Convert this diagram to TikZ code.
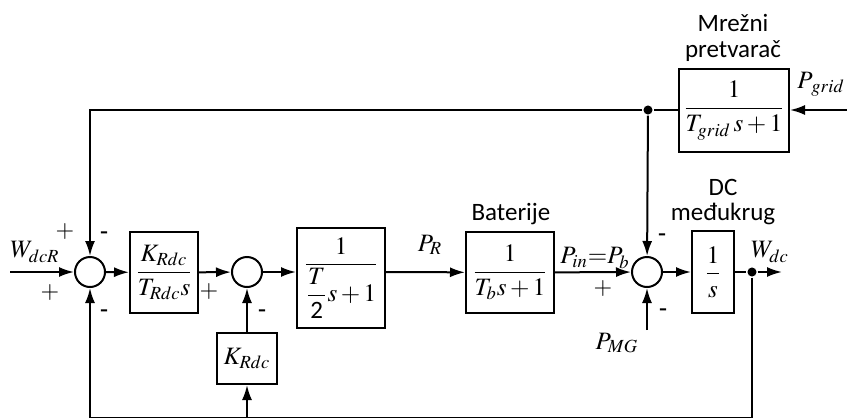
\documentclass[tikz,border=0pt]{standalone}
\usepackage{amsmath}
\usepackage{mathptmx}
\usepackage[no-math]{fontspec}
\setmainfont{Liberation Serif}
\newfontfamily\lbl{Carlito}
\usetikzlibrary{arrows.meta}
\newcommand\mfont{\fontsize{12.5}{15}\selectfont}

\begin{document}
\begin{tikzpicture}[x=0.5pt, y=-0.5pt, >={Latex[length=7.5pt,width=5pt]}, line width=1pt,
  blok/.style={draw, line width=1pt, inner sep=1pt, font=\mfont},
  sumator/.style={circle, draw, line width=1pt, minimum size=15pt, inner sep=0pt},
  znak/.style={font=\fontsize{12}{14}\selectfont, inner sep=0pt},
  natpis/.style={font=\lbl\fontsize{12.5}{14}\selectfont, inner sep=0pt},
  oznaka/.style={font=\mfont, inner sep=0pt},
  tacka/.style={circle, fill, inner sep=1.6pt}]
  \useasboundingbox (0,0) rectangle (847,418);

  % sumatori i blokovi na glavnoj liniji
  \node[sumator] (sum1) at (90,272) {};
  \node[blok, minimum width=34pt, minimum height=40.5pt] (blkPI) at (164,272.5) {$\dfrac{K_{Rdc}}{T_{Rdc}s}$};
  \node[sumator] (sum2) at (247,272) {};
  \node[blok, minimum width=30pt, minimum height=25.5pt] (blkK) at (247,358.5) {$K_{Rdc}$};
  \node[blok, minimum width=44pt, minimum height=50pt] (blkT) at (341,278) {$\dfrac{1}{\dfrac{T}{\mbox{\lbl 2}}s+1}$};
  \node[blok, minimum width=44pt, minimum height=40.5pt] (blkB) at (510,272.5) {$\dfrac{1}{T_b s+1}$};
  \node[sumator] (sum3) at (647,272) {};
  \node[blok, minimum width=21pt, minimum height=41pt] (blkS) at (713,272) {$\dfrac{1}{s}$};
  \node[blok, minimum width=55pt, minimum height=41.5pt] (blkG) at (734,110.5) {$\dfrac{1}{T_{grid}\,s+1}$};

  % tacke grananja i krajevi
  \node[tacka] (jG) at (648,110) {};
  \node[tacka] (jW) at (752,272) {};
  \coordinate (ulaz) at (10,272);
  \coordinate (izlaz) at (782,272);
  \coordinate (pgrid) at (847,110);
  \coordinate (pmg) at (647,330);
  \coordinate (kGL) at (90,110);
  \coordinate (kDL) at (90,418);
  \coordinate (kDD) at (752,418);
  \coordinate (kDK) at (247,418);

  % veze
  \draw[->] (ulaz) -- (sum1);
  \draw[->] (sum1) -- (blkPI);
  \draw[->] (blkPI) -- (sum2);
  \draw[->] (sum2) -- (sum2 -| blkT.west);
  \draw[->] (blkT.east |- sum2) -- (blkB);
  \draw[->] (blkB) -- (sum3);
  \draw[->] (sum3) -- (blkS);
  \draw (blkS) -- (jW);
  \draw[->] (jW) -- (izlaz);
  \draw[->] (pgrid) -- (pgrid -| blkG.east);
  \draw (blkG.west |- jG) -- (jG);
  \draw[->] (jG) -- (kGL) -- (sum1);
  \draw[->] (jG) -- (sum3);
  \draw[->] (pmg) -- (sum3);
  \draw[->] (jW) -- (kDD) -- (kDL) -- (sum1);
  \draw[->] (kDK) -- (blkK);
  \draw[->] (blkK) -- (sum2);

  % znakovi
  \node[znak] (z1a) at (65,232) {$+$};
  \node[znak] (z1b) at (104,235) {\textbf{-}};
  \node[znak] (z1c) at (50,293) {$+$};
  \node[znak] (z1d) at (104,313) {\textbf{-}};
  \node[znak] (z2a) at (209,292) {$+$};
  \node[znak] (z2b) at (262,313) {\textbf{-}};
  \node[znak] (z3a) at (603,289) {$+$};
  \node[znak] (z3b) at (662,237) {\textbf{-}};
  \node[znak] (z3c) at (663,312) {\textbf{-}};

  % oznake signala
  \node[oznaka] (lWdcR) at (35,252) {$W_{dcR}$};
  \node[oznaka] (lPR) at (430,245) {$P_R$};
  \node[oznaka] (lPin) at (595,258) {$P_{in}{=}P_b$};
  \node[oznaka] (lPMG) at (617,343) {$P_{MG}$};
  \node[oznaka] (lWdc) at (770,252) {$W_{dc}$};
  \node[oznaka] (lPgrid) at (821,84) {$P_{\mkern2mu grid}$};

  % natpisi blokova
  \node[natpis] (nBat) at (511,214) {Baterije};
  \node[natpis] (nDC) at (723,187) {DC};
  \node[natpis] (nMedj) at (723,214) {međukrug};
  \node[natpis] (nMrez) at (733,23) {Mrežni};
  \node[natpis] (nPretv) at (733,51) {pretvarač};
\end{tikzpicture}
\end{document}
